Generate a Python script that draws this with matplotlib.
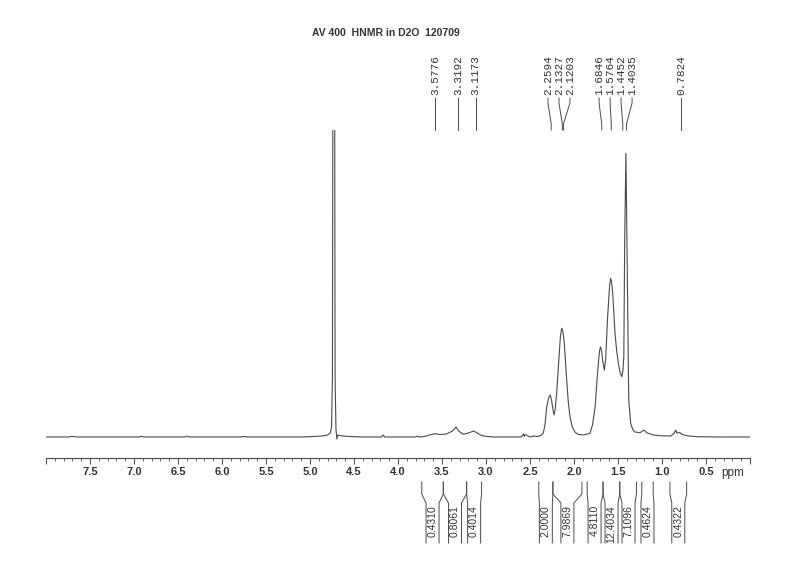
import numpy as np
import matplotlib
matplotlib.use("Agg")
import matplotlib.pyplot as plt
from matplotlib.ticker import MultipleLocator

# Espectro: desplazamiento (ppm) e intensidad (px sobre linea base)
ppm = [8.00, 7.75, 7.70, 7.65, 6.95, 6.92, 6.88, 6.42, 6.40, 6.37, 5.80, 5.75, 5.70,
       5.10, 4.95, 4.86, 4.80, 4.77, 4.755, 4.745, 4.738, 4.722, 4.715, 4.705, 4.695,
       4.685, 4.67, 4.62, 4.55, 4.45, 4.40, 4.19, 4.17, 4.15, 3.80, 3.78, 3.76, 3.70,
       3.62, 3.58, 3.52, 3.45, 3.38, 3.34, 3.31, 3.26, 3.20, 3.14, 3.10, 3.05, 2.99,
       2.90, 2.60, 2.575, 2.565, 2.555, 2.50, 2.46, 2.42, 2.38, 2.35, 2.33, 2.31, 2.285,
       2.27, 2.255, 2.24, 2.227, 2.215, 2.197, 2.18, 2.167, 2.155, 2.14, 2.127, 2.114,
       2.10, 2.083, 2.065, 2.045, 2.02, 1.99, 1.95, 1.894, 1.818, 1.79, 1.76, 1.74, 1.72,
       1.708, 1.697, 1.686, 1.675, 1.655, 1.64, 1.63, 1.618, 1.606, 1.595, 1.583, 1.572,
       1.56, 1.548, 1.534, 1.515, 1.496, 1.475, 1.457, 1.445, 1.434, 1.424, 1.41,
       1.394, 1.378, 1.356, 1.33, 1.307, 1.25, 1.205, 1.174, 1.10, 1.023, 0.90, 0.86,
       0.845, 0.83, 0.80, 0.77, 0.70, 0.60, 0.30, 0.00]
inten = [0.0, 0.0, 0.6, 0.0, 0.0, 0.6, 0.0, 0.0, 0.8, 0.0, 0.0, 0.5, 0.0,
         0.0, 0.5, 1.0, 2.0, 4.0, 10.0, 60.0, 500.0, 500.0, 60.0, 8.0, -2.0,
         2.0, 1.5, 1.0, 0.5, 0.2, 0.0, 0.0, 2.0, 0.0, 0.0, 1.0, 0.0, 0.5,
         2.5, 3.3, 2.5, 3.0, 6.0, 10.0, 6.0, 2.7, 4.0, 6.0, 4.0, 1.5, 0.5,
         0.0, 0.0, 3.0, 0.5, 2.5, 0.0, 1.0, 0.5, 1.5, 3.7, 12.0, 30.0, 40.0,
         42.0, 37.0, 28.0, 22.0, 27.0, 43.7, 66.0, 83.7, 100.0, 108.7, 106.0, 97.0,
         80.0, 57.0, 35.0, 20.0, 10.0, 5.0, 2.5, 2.0, 3.7, 12.0, 30.0, 55.0, 77.0,
         87.0, 90.0, 86.0, 77.0, 67.0, 78.0, 97.0, 120.0, 137.0, 152.0, 158.7, 154.0,
         143.7, 125.0, 103.7, 86.0, 73.7, 64.0, 60.3, 66.0, 80.0, 197.0, 283.7,
         163.7, 37.0, 13.7, 7.0, 5.0, 4.3, 7.0, 4.3, 2.0, 1.3, 1.0, 4.0,
         7.0, 4.0, 4.5, 2.5, 1.0, 0.3, 0.0, 0.0]

# Picos marcados
peaks = [3.5776, 3.3192, 3.1173, 2.2594, 2.1327, 2.1203,
         1.6846, 1.5764, 1.4452, 1.4035, 0.7824]

# Integrales: rangos (ppm) y valores
int_ranges = [(3.73, 3.485), (3.485, 3.22), (3.22, 3.05), (2.40, 2.24), (2.24, 1.91),
              (1.85, 1.67), (1.67, 1.48), (1.48, 1.29), (1.23, 1.10), (0.91, 0.72)]
int_values = ["0.4310", "0.8061", "0.4014", "2.0000", "7.9869",
              "4.8110", "12.4034", "7.1096", "0.4624", "0.4322"]

tick_vals = [7.5, 7.0, 6.5, 6.0, 5.5, 5.0, 4.5, 4.0, 3.5, 3.0, 2.5, 2.0, 1.5, 1.0, 0.5]

GRIS = "#4a4a4a"
PX = 88.0  # px por ppm


def spread(vals, gap):
    # separa etiquetas que se encimen, centrando cada grupo
    vals = sorted(vals, reverse=True)
    groups = [[v] for v in vals]
    while True:
        pos = []
        for g in groups:
            c = np.mean(g)
            start = c + gap * (len(g) - 1) / 2
            pos.append([start - i * gap for i in range(len(g))])
        merged = False
        for i in range(len(groups) - 1):
            if pos[i][-1] - pos[i + 1][0] < gap:
                groups[i] = groups[i] + groups[i + 1]
                del groups[i + 1]
                merged = True
                break
        if not merged:
            return [p for ps in pos for p in ps]


fig = plt.figure(figsize=(8, 5.81), dpi=100)
# ejes en px: base de espectro en y=437, eje en y=458, tope en y=130
ax = fig.add_axes([46 / 800, (581 - 458) / 581, 704 / 800, 328 / 581])
ax.plot(ppm, inten, color=GRIS, lw=0.8)
ax.set_xlim(8.0, 0.0)
ax.set_ylim(-21, 307)

for s in ["top", "left", "right"]:
    ax.spines[s].set_visible(False)
ax.spines["bottom"].set_color(GRIS)
ax.spines["bottom"].set_linewidth(0.8)
ax.set_yticks([])
ax.set_xticks([8.0] + tick_vals + [0.0])
ax.set_xticklabels([""] + [f"{t:.1f}" for t in tick_vals] + [""],
                   fontsize=8, fontweight="bold", family="Liberation Sans", color="#333333")
ax.xaxis.set_minor_locator(MultipleLocator(0.1))
ax.tick_params(axis="x", which="major", length=4.5, width=0.7, color=GRIS, pad=2)
ax.tick_params(axis="x", which="minor", length=2.2, width=0.6, color=GRIS)

# etiquetas de picos (arriba)
lab_pos = spread(peaks, 0.125)
for p, lx in zip(sorted(peaks, reverse=True), lab_pos):
    ax.plot([lx, lx, p, p], [339, 334, 313, 307], color=GRIS, lw=0.7, clip_on=False)
    ax.text(lx, 342, f"{p:.4f}", rotation=90, ha="center", va="bottom",
            fontsize=8, family="Liberation Mono", color="#333333")

# integrales (abajo)
centers = [(a + b) / 2 for a, b in int_ranges]
int_pos = spread(centers, 0.193)
hw = 6.5 / PX
for (a, b), lx, v in zip(int_ranges, int_pos, int_values):
    ax.plot([a, a, lx + hw, lx + hw], [-45, -57, -66, -106], color=GRIS, lw=0.7, clip_on=False)
    ax.plot([b, b, lx - hw, lx - hw], [-45, -57, -66, -106], color=GRIS, lw=0.7, clip_on=False)
    ax.text(lx, -68, v, rotation=90, ha="center", va="top",
            fontsize=7.5, family="Liberation Sans", color="#333333")

fig.text(733 / 800, 1 - 473 / 581, "ppm", ha="center", va="center",
         fontsize=8.5, family="Liberation Sans", color="#333333")
fig.text(386 / 800, 1 - 33 / 581, "AV 400  HNMR in D2O  120709", ha="center", va="center",
         fontsize=7.5, fontweight="bold", family="Liberation Sans", color="#333333")

fig.savefig("out.png", dpi=100)
